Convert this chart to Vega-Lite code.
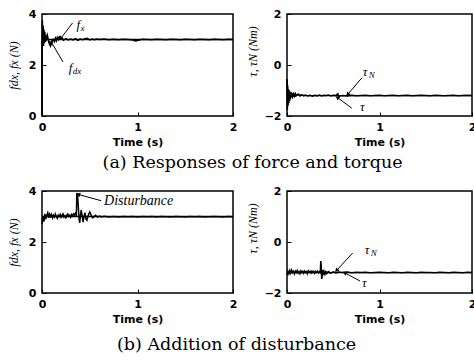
{
  "$schema": "https://vega.github.io/schema/vega-lite/v6.json",
  "background": "white",
  "padding": {"left": 6, "top": 7, "right": 0, "bottom": 0},
  "config": {
    "view": {"stroke": "black", "strokeWidth": 1.5},
    "axis": {
      "domain": false, "grid": false, "format": "~g",
      "ticks": true, "tickSize": -4, "tickColor": "black", "tickWidth": 1,
      "labelFont": "DejaVu Sans", "labelFontWeight": "bold", "labelFontSize": 11, "labelColor": "black",
      "titleFont": "DejaVu Sans", "titleFontWeight": "bold", "titleFontSize": 11, "titleColor": "black"
    },
    "axisX": {"labelPadding": 9, "titlePadding": 4, "labelFlush": false},
    "axisY": {"labelPadding": 10, "titlePadding": 8, "titleFont": "Liberation Serif", "titleFontStyle": "italic", "titleFontWeight": "normal", "titleFontSize": 12},
    "title": {"font": "DejaVu Serif", "fontSize": 17.5, "fontWeight": "normal", "color": "black"}
  },
  "datasets": {
    "tl_fx": [
      {"t":0,"v":0},{"t":0.004,"v":3.75},{"t":0.008,"v":2.9},{"t":0.012,"v":3.55},{"t":0.016,"v":2.75},{"t":0.02,"v":3.4},{"t":0.025,"v":2.85},{"t":0.03,"v":3.3},{"t":0.035,"v":2.9},{"t":0.04,"v":3.15},{"t":0.045,"v":2.95},{"t":0.05,"v":3.12},{"t":0.055,"v":3.18},{"t":0.06,"v":3.1},{"t":0.065,"v":3.0},{"t":0.07,"v":2.9},{"t":0.075,"v":2.85},{"t":0.08,"v":2.95},{"t":0.085,"v":2.8},{"t":0.09,"v":2.75},{"t":0.095,"v":2.82},{"t":0.1,"v":2.9},{"t":0.105,"v":2.85},{"t":0.11,"v":2.95},{"t":0.12,"v":3.0},{"t":0.13,"v":2.92},{"t":0.14,"v":3.05},{"t":0.15,"v":2.95},{"t":0.16,"v":3.08},{"t":0.17,"v":3.0},{"t":0.18,"v":3.1},{"t":0.19,"v":3.02},{"t":0.2,"v":3.06},{"t":0.225,"v":2.97},{"t":0.25,"v":3.03},{"t":0.275,"v":2.98},{"t":0.3,"v":3.02},{"t":0.325,"v":2.98},{"t":0.35,"v":3.03},{"t":0.375,"v":2.97},{"t":0.4,"v":3.02},{"t":0.425,"v":2.99},{"t":0.45,"v":3.03},{"t":0.475,"v":3.05},{"t":0.5,"v":2.98},{"t":0.525,"v":3.02},{"t":0.55,"v":2.99},{"t":0.575,"v":3.02},{"t":0.6,"v":3.0},{"t":0.65,"v":3.02},{"t":0.7,"v":2.99},{"t":0.75,"v":3.01},{"t":0.8,"v":2.99},{"t":0.85,"v":3.01},{"t":0.9,"v":3.0},{"t":0.95,"v":2.98},{"t":0.98,"v":2.94},{"t":1.0,"v":2.96},{"t":1.05,"v":3.01},{"t":1.1,"v":3.0},{"t":1.15,"v":2.99},{"t":1.2,"v":3.01},{"t":1.25,"v":3.0},{"t":1.3,"v":2.99},{"t":1.35,"v":3.01},{"t":1.4,"v":3.0},{"t":1.45,"v":2.99},{"t":1.5,"v":3.01},{"t":1.55,"v":3.0},{"t":1.6,"v":2.99},{"t":1.65,"v":3.01},{"t":1.7,"v":3.0},{"t":1.75,"v":2.99},{"t":1.8,"v":3.01},{"t":1.85,"v":3.0},{"t":1.9,"v":2.99},{"t":1.95,"v":3.01},{"t":2.0,"v":3.0}
    ],
    "tl_fdx": [{"t":0,"v":0},{"t":0.002,"v":3.0},{"t":2.0,"v":3.0}],
    "tr_tau": [
      {"t":0,"v":-0.55},{"t":0.004,"v":-1.75},{"t":0.008,"v":-0.8},{"t":0.012,"v":-1.6},{"t":0.016,"v":-0.95},{"t":0.02,"v":-1.5},{"t":0.025,"v":-1.0},{"t":0.03,"v":-1.4},{"t":0.035,"v":-1.05},{"t":0.04,"v":-1.3},{"t":0.05,"v":-1.1},{"t":0.06,"v":-1.25},{"t":0.07,"v":-1.13},{"t":0.08,"v":-1.22},{"t":0.09,"v":-1.12},{"t":0.1,"v":-1.2},{"t":0.12,"v":-1.14},{"t":0.14,"v":-1.22},{"t":0.16,"v":-1.17},{"t":0.18,"v":-1.21},{"t":0.2,"v":-1.18},{"t":0.225,"v":-1.21},{"t":0.25,"v":-1.19},{"t":0.275,"v":-1.22},{"t":0.3,"v":-1.19},{"t":0.325,"v":-1.21},{"t":0.35,"v":-1.18},{"t":0.375,"v":-1.21},{"t":0.4,"v":-1.19},{"t":0.425,"v":-1.2},{"t":0.45,"v":-1.18},{"t":0.475,"v":-1.21},{"t":0.5,"v":-1.19},{"t":0.525,"v":-1.2},{"t":0.55,"v":-1.13},{"t":0.56,"v":-1.24},{"t":0.575,"v":-1.21},{"t":0.6,"v":-1.2},{"t":0.65,"v":-1.22},{"t":0.7,"v":-1.19},{"t":0.75,"v":-1.21},{"t":0.8,"v":-1.2},{"t":0.85,"v":-1.19},{"t":0.9,"v":-1.21},{"t":0.95,"v":-1.2},{"t":1.0,"v":-1.19},{"t":1.05,"v":-1.21},{"t":1.1,"v":-1.2},{"t":1.15,"v":-1.19},{"t":1.2,"v":-1.21},{"t":1.25,"v":-1.2},{"t":1.3,"v":-1.19},{"t":1.35,"v":-1.21},{"t":1.4,"v":-1.2},{"t":1.45,"v":-1.19},{"t":1.5,"v":-1.2},{"t":1.55,"v":-1.21},{"t":1.6,"v":-1.19},{"t":1.65,"v":-1.2},{"t":1.7,"v":-1.21},{"t":1.75,"v":-1.2},{"t":1.8,"v":-1.19},{"t":1.85,"v":-1.21},{"t":1.9,"v":-1.2},{"t":1.95,"v":-1.19},{"t":2.0,"v":-1.2}
    ],
    "tr_taun": [{"t":0,"v":-0.6},{"t":0.006,"v":-1.55},{"t":0.015,"v":-0.95},{"t":0.03,"v":-1.35},{"t":0.05,"v":-1.1},{"t":0.08,"v":-1.24},{"t":0.12,"v":-1.16},{"t":0.2,"v":-1.2},{"t":2.0,"v":-1.2}],
    "bl_fx": [
      {"t":0,"v":2.7},{"t":0.01,"v":3.0},{"t":0.02,"v":2.8},{"t":0.03,"v":3.1},{"t":0.04,"v":2.9},{"t":0.05,"v":3.05},{"t":0.06,"v":3.15},{"t":0.07,"v":2.95},{"t":0.08,"v":3.1},{"t":0.09,"v":3.0},{"t":0.1,"v":3.08},{"t":0.11,"v":2.95},{"t":0.12,"v":3.05},{"t":0.13,"v":2.98},{"t":0.14,"v":3.1},{"t":0.15,"v":3.0},{"t":0.16,"v":2.93},{"t":0.17,"v":3.05},{"t":0.18,"v":3.0},{"t":0.19,"v":3.08},{"t":0.2,"v":2.97},{"t":0.21,"v":3.05},{"t":0.22,"v":3.1},{"t":0.23,"v":2.98},{"t":0.24,"v":3.03},{"t":0.25,"v":2.95},{"t":0.26,"v":3.05},{"t":0.27,"v":3.1},{"t":0.28,"v":3.0},{"t":0.29,"v":3.05},{"t":0.3,"v":2.97},{"t":0.31,"v":3.08},{"t":0.32,"v":3.02},{"t":0.33,"v":3.1},{"t":0.34,"v":3.05},{"t":0.35,"v":3.12},{"t":0.36,"v":3.02},{"t":0.365,"v":3.92},{"t":0.37,"v":3.88},{"t":0.375,"v":3.7},{"t":0.38,"v":3.4},{"t":0.385,"v":3.1},{"t":0.39,"v":2.85},{"t":0.395,"v":2.75},{"t":0.4,"v":2.95},{"t":0.41,"v":3.25},{"t":0.42,"v":3.05},{"t":0.43,"v":2.78},{"t":0.44,"v":3.0},{"t":0.45,"v":3.15},{"t":0.46,"v":2.9},{"t":0.47,"v":2.85},{"t":0.48,"v":3.0},{"t":0.49,"v":3.1},{"t":0.5,"v":3.18},{"t":0.51,"v":3.1},{"t":0.52,"v":3.0},{"t":0.53,"v":2.95},{"t":0.54,"v":2.97},{"t":0.55,"v":3.02},{"t":0.56,"v":3.05},{"t":0.58,"v":2.98},{"t":0.6,"v":3.02},{"t":0.62,"v":2.98},{"t":0.65,"v":3.01},{"t":0.7,"v":2.98},{"t":0.75,"v":3.0},{"t":0.8,"v":2.98},{"t":0.85,"v":3.0},{"t":0.9,"v":2.99},{"t":0.95,"v":3.0},{"t":1.0,"v":2.98},{"t":1.05,"v":3.0},{"t":1.1,"v":2.99},{"t":1.15,"v":3.0},{"t":1.2,"v":2.98},{"t":1.25,"v":3.0},{"t":1.3,"v":2.99},{"t":1.35,"v":2.98},{"t":1.4,"v":3.0},{"t":1.45,"v":2.99},{"t":1.5,"v":2.98},{"t":1.55,"v":3.0},{"t":1.6,"v":2.99},{"t":1.65,"v":3.0},{"t":1.7,"v":2.98},{"t":1.75,"v":2.99},{"t":1.8,"v":3.0},{"t":1.85,"v":2.99},{"t":1.9,"v":2.98},{"t":1.95,"v":3.0},{"t":2.0,"v":2.99}
    ],
    "bl_fdx": [{"t":0,"v":3.0},{"t":2.0,"v":3.0}],
    "br_tau": [
      {"t":0,"v":-1.3},{"t":0.01,"v":-1.15},{"t":0.02,"v":-1.25},{"t":0.03,"v":-1.12},{"t":0.04,"v":-1.22},{"t":0.05,"v":-1.1},{"t":0.06,"v":-1.2},{"t":0.07,"v":-1.15},{"t":0.08,"v":-1.25},{"t":0.09,"v":-1.14},{"t":0.1,"v":-1.2},{"t":0.11,"v":-1.12},{"t":0.12,"v":-1.22},{"t":0.13,"v":-1.16},{"t":0.14,"v":-1.24},{"t":0.15,"v":-1.13},{"t":0.16,"v":-1.2},{"t":0.17,"v":-1.15},{"t":0.18,"v":-1.23},{"t":0.19,"v":-1.14},{"t":0.2,"v":-1.2},{"t":0.21,"v":-1.16},{"t":0.22,"v":-1.24},{"t":0.23,"v":-1.13},{"t":0.24,"v":-1.19},{"t":0.25,"v":-1.15},{"t":0.26,"v":-1.22},{"t":0.27,"v":-1.14},{"t":0.28,"v":-1.2},{"t":0.29,"v":-1.15},{"t":0.3,"v":-1.23},{"t":0.31,"v":-1.16},{"t":0.32,"v":-1.2},{"t":0.33,"v":-1.14},{"t":0.34,"v":-1.21},{"t":0.35,"v":-1.16},{"t":0.36,"v":-1.2},{"t":0.365,"v":-0.75},{"t":0.37,"v":-0.9},{"t":0.375,"v":-1.45},{"t":0.38,"v":-1.35},{"t":0.385,"v":-1.1},{"t":0.39,"v":-1.3},{"t":0.4,"v":-1.15},{"t":0.41,"v":-1.27},{"t":0.42,"v":-1.17},{"t":0.43,"v":-1.24},{"t":0.45,"v":-1.16},{"t":0.47,"v":-1.22},{"t":0.5,"v":-1.17},{"t":0.53,"v":-1.21},{"t":0.56,"v":-1.18},{"t":0.6,"v":-1.2},{"t":0.65,"v":-1.18},{"t":0.7,"v":-1.21},{"t":0.75,"v":-1.19},{"t":0.8,"v":-1.2},{"t":0.85,"v":-1.19},{"t":0.9,"v":-1.21},{"t":0.95,"v":-1.2},{"t":1.0,"v":-1.19},{"t":1.05,"v":-1.2},{"t":1.1,"v":-1.21},{"t":1.15,"v":-1.19},{"t":1.2,"v":-1.2},{"t":1.25,"v":-1.21},{"t":1.3,"v":-1.19},{"t":1.35,"v":-1.2},{"t":1.4,"v":-1.21},{"t":1.45,"v":-1.19},{"t":1.5,"v":-1.2},{"t":1.55,"v":-1.2},{"t":1.6,"v":-1.21},{"t":1.65,"v":-1.19},{"t":1.7,"v":-1.2},{"t":1.75,"v":-1.21},{"t":1.8,"v":-1.19},{"t":1.85,"v":-1.2},{"t":1.9,"v":-1.21},{"t":1.95,"v":-1.19},{"t":2.0,"v":-1.2}
    ],
    "br_taun": [{"t":0,"v":-1.2},{"t":0.36,"v":-1.2},{"t":0.37,"v":-1.05},{"t":0.39,"v":-1.28},{"t":0.42,"v":-1.17},{"t":0.46,"v":-1.21},{"t":0.5,"v":-1.2},{"t":2.0,"v":-1.2}]
  },
  "spacing": 12,
  "vconcat": [
    {
      "spacing": 54,
      "bounds": "flush",
      "title": {"text": "(a)  Responses of force and torque", "orient": "bottom", "anchor": "middle", "offset": 6, "dx": 11},
      "hconcat": [
        {
          "width": 191, "height": 102,
          "encoding": {
            "x": {"field": "t", "type": "quantitative", "scale": {"domain": [0, 2], "nice": false}, "axis": {"values": [0, 1, 2], "title": "Time (s)"}},
            "y": {"field": "v", "type": "quantitative", "scale": {"domain": [0, 4], "nice": false}, "axis": {"values": [0, 2, 4], "title": "fdx, fx (N)"}}
          },
          "layer": [
            {"data": {"name": "tl_fdx"}, "mark": {"type": "line", "color": "black", "strokeWidth": 1.3}},
            {"data": {"name": "tl_fx"}, "mark": {"type": "line", "color": "black", "strokeWidth": 1.5}},
            {"data": {"values": [{"t": 0.2, "v": 3.06, "t2": 0.32, "v2": 3.65}, {"t": 0.11, "v": 2.82, "t2": 0.22, "v2": 2.12}]},
             "mark": {"type": "rule", "color": "black", "strokeWidth": 1},
             "encoding": {"x2": {"field": "t2"}, "y2": {"field": "v2"}}},
            {"data": {"values": [{"t": 0.2, "v": 3.06}]}, "mark": {"type": "point", "shape": "triangle", "filled": true, "color": "black", "opacity": 1, "size": 22, "angle": 217}},
            {"data": {"values": [{"t": 0.36, "v": 3.55, "m": "f", "sub": "x"}, {"t": 0.28, "v": 1.88, "m": "f", "sub": "dx"}]},
             "mark": {"type": "text", "align": "left", "baseline": "middle", "font": "Liberation Serif", "fontStyle": "italic", "fontSize": 13, "color": "black"},
             "encoding": {"text": {"field": "m"}}},
            {"data": {"values": [{"t": 0.36, "v": 3.55, "m": "f", "sub": "x"}, {"t": 0.28, "v": 1.88, "m": "f", "sub": "dx"}]},
             "mark": {"type": "text", "align": "left", "baseline": "middle", "font": "Liberation Serif", "fontStyle": "italic", "fontSize": 9, "color": "black", "dx": 4, "dy": 3},
             "encoding": {"text": {"field": "sub"}}}
          ]
        },
        {
          "width": 185, "height": 102,
          "encoding": {
            "x": {"field": "t", "type": "quantitative", "scale": {"domain": [0, 2], "nice": false}, "axis": {"values": [0, 1, 2], "title": "Time (s)"}},
            "y": {"field": "v", "type": "quantitative", "scale": {"domain": [-2, 2], "nice": false}, "axis": {"values": [-2, 0, 2], "title": "τ, τN (Nm)", "titleY": 37, "titlePadding": 5}}
          },
          "layer": [
            {"data": {"values": [{}]}, "mark": {"type": "rule", "color": "#555555", "strokeDash": [1.5, 2], "strokeWidth": 1},
             "encoding": {"x": {"datum": 0}, "x2": {"datum": 2}, "y": {"datum": 0}}},
            {"data": {"name": "tr_taun"}, "mark": {"type": "line", "color": "black", "strokeWidth": 1.3}},
            {"data": {"name": "tr_tau"}, "mark": {"type": "line", "color": "black", "strokeWidth": 1.5}},
            {"data": {"values": [{"t": 0.66, "v": -1.14, "t2": 0.81, "v2": -0.5}, {"t": 0.55, "v": -1.29, "t2": 0.7, "v2": -1.69}]},
             "mark": {"type": "rule", "color": "black", "strokeWidth": 1},
             "encoding": {"x2": {"field": "t2"}, "y2": {"field": "v2"}}},
            {"data": {"values": [{"t": 0.66, "v": -1.14}]}, "mark": {"type": "point", "shape": "triangle", "filled": true, "color": "black", "opacity": 1, "size": 22, "angle": 220}},
            {"data": {"values": [{"t": 0.55, "v": -1.29}]}, "mark": {"type": "point", "shape": "triangle", "filled": true, "color": "black", "opacity": 1, "size": 22, "angle": 306}},
            {"data": {"values": [{"t": 0.82, "v": -0.27, "m": "τ", "sub": "N"}, {"t": 0.79, "v": -1.65, "m": "τ", "sub": ""}]},
             "mark": {"type": "text", "align": "left", "baseline": "middle", "font": "Liberation Serif", "fontStyle": "italic", "fontSize": 13, "color": "black"},
             "encoding": {"text": {"field": "m"}}},
            {"data": {"values": [{"t": 0.82, "v": -0.27, "m": "τ", "sub": "N"}, {"t": 0.79, "v": -1.65, "m": "τ", "sub": ""}]},
             "mark": {"type": "text", "align": "left", "baseline": "middle", "font": "Liberation Serif", "fontStyle": "italic", "fontSize": 9, "color": "black", "dx": 6, "dy": 3},
             "encoding": {"text": {"field": "sub"}}}
          ]
        }
      ]
    },
    {
      "spacing": 54,
      "bounds": "flush",
      "title": {"text": "(b)  Addition of disturbance", "orient": "bottom", "anchor": "middle", "offset": 11, "dx": -5},
      "hconcat": [
        {
          "width": 191, "height": 102,
          "encoding": {
            "x": {"field": "t", "type": "quantitative", "scale": {"domain": [0, 2], "nice": false}, "axis": {"values": [0, 1, 2], "title": "Time (s)"}},
            "y": {"field": "v", "type": "quantitative", "scale": {"domain": [0, 4], "nice": false}, "axis": {"values": [0, 2, 4], "title": "fdx, fx (N)"}}
          },
          "layer": [
            {"data": {"name": "bl_fdx"}, "mark": {"type": "line", "color": "black", "strokeWidth": 1.3}},
            {"data": {"name": "bl_fx"}, "mark": {"type": "line", "color": "black", "strokeWidth": 1.5}},
            {"data": {"values": [{"t": 0.385, "v": 3.86, "t2": 0.62, "v2": 3.62}]},
             "mark": {"type": "rule", "color": "black", "strokeWidth": 1},
             "encoding": {"x2": {"field": "t2"}, "y2": {"field": "v2"}}},
            {"data": {"values": [{"t": 0.385, "v": 3.86}]}, "mark": {"type": "point", "shape": "triangle", "filled": true, "color": "black", "opacity": 1, "size": 22, "angle": 287}},
            {"data": {"values": [{"t": 0.65, "v": 3.61, "m": "Disturbance"}]},
             "mark": {"type": "text", "align": "left", "baseline": "middle", "font": "Liberation Serif", "fontStyle": "italic", "fontSize": 14, "color": "black"},
             "encoding": {"text": {"field": "m"}}}
          ]
        },
        {
          "width": 185, "height": 102,
          "encoding": {
            "x": {"field": "t", "type": "quantitative", "scale": {"domain": [0, 2], "nice": false}, "axis": {"values": [0, 1, 2], "title": "Time (s)"}},
            "y": {"field": "v", "type": "quantitative", "scale": {"domain": [-2, 2], "nice": false}, "axis": {"values": [-2, 0, 2], "title": "τ, τN (Nm)", "titleY": 37, "titlePadding": 5}}
          },
          "layer": [
            {"data": {"values": [{}]}, "mark": {"type": "rule", "color": "#555555", "strokeDash": [1.5, 2], "strokeWidth": 1},
             "encoding": {"x": {"datum": 0}, "x2": {"datum": 2}, "y": {"datum": 0}}},
            {"data": {"name": "br_taun"}, "mark": {"type": "line", "color": "black", "strokeWidth": 1.3}},
            {"data": {"name": "br_tau"}, "mark": {"type": "line", "color": "black", "strokeWidth": 1.5}},
            {"data": {"values": [{"t": 0.54, "v": -1.1, "t2": 0.71, "v2": -0.43}, {"t": 0.63, "v": -1.22, "t2": 0.79, "v2": -1.53}]},
             "mark": {"type": "rule", "color": "black", "strokeWidth": 1},
             "encoding": {"x2": {"field": "t2"}, "y2": {"field": "v2"}}},
            {"data": {"values": [{"t": 0.54, "v": -1.1}]}, "mark": {"type": "point", "shape": "triangle", "filled": true, "color": "black", "opacity": 1, "size": 22, "angle": 223}},
            {"data": {"values": [{"t": 0.63, "v": -1.22}]}, "mark": {"type": "point", "shape": "triangle", "filled": true, "color": "black", "opacity": 1, "size": 22, "angle": 298}},
            {"data": {"values": [{"t": 0.84, "v": -0.31, "m": "τ", "sub": "N"}, {"t": 0.81, "v": -1.61, "m": "τ", "sub": ""}]},
             "mark": {"type": "text", "align": "left", "baseline": "middle", "font": "Liberation Serif", "fontStyle": "italic", "fontSize": 13, "color": "black"},
             "encoding": {"text": {"field": "m"}}},
            {"data": {"values": [{"t": 0.84, "v": -0.31, "m": "τ", "sub": "N"}, {"t": 0.81, "v": -1.61, "m": "τ", "sub": ""}]},
             "mark": {"type": "text", "align": "left", "baseline": "middle", "font": "Liberation Serif", "fontStyle": "italic", "fontSize": 9, "color": "black", "dx": 6, "dy": 3},
             "encoding": {"text": {"field": "sub"}}}
          ]
        }
      ]
    }
  ]
}
